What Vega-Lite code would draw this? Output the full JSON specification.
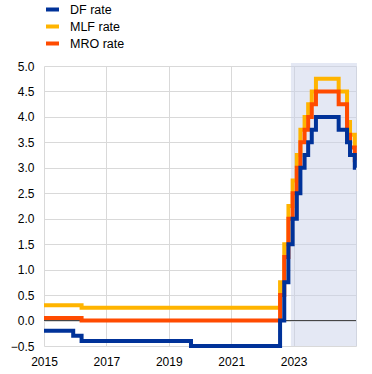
{
  "$schema": "https://vega.github.io/schema/vega-lite/v6.json",
  "width": 312,
  "height": 280,
  "autosize": {"type": "none"},
  "padding": {"left": 44, "top": 66, "right": 16, "bottom": 28},
  "background": "white",
  "config": {
    "view": {"stroke": null},
    "font": "Liberation Sans",
    "axisX": {"grid": true, "gridColor": "#d9d9d9", "ticks": false, "domain": false, "labelFontSize": 12, "labelColor": "#000000", "labelPadding": 10, "labelFlush": false, "labelOverlap": false, "title": null},
    "axisY": {"grid": true, "gridColor": "#d9d9d9", "ticks": false, "domain": false, "labelFontSize": 12, "labelColor": "#000000", "labelPadding": 10, "title": null}
  },
  "layer": [
    {
      "data": {"values": [{"start": "2022-12-01", "end": "2025-01-12", "lo": -0.5, "hi": 5.06}]},
      "mark": {"type": "rect", "color": "#c9d1e9", "opacity": 0.5},
      "encoding": {
        "x": {"field": "start", "type": "temporal", "scale": {"domain": ["2015-01-01", "2025-01-01"]}, "axis": {"values": [{"year": 2015}, {"year": 2017}, {"year": 2019}, {"year": 2021}, {"year": 2023}, {"year": 2025}], "format": "%Y", "labelExpr": "datum.label == '2025' ? '' : datum.label", "title": null}},
        "x2": {"field": "end"},
        "y": {"field": "lo", "type": "quantitative", "scale": {"domain": [-0.5, 5]}, "axis": {"values": [-0.5, 0, 0.5, 1, 1.5, 2, 2.5, 3, 3.5, 4, 4.5, 5], "format": ".1f", "title": null}},
        "y2": {"field": "hi"}
      }
    },
    {
      "data": {"values": [{"z": 0}]},
      "mark": {"type": "rule", "color": "#404040", "strokeWidth": 1},
      "encoding": {
        "y": {"field": "z", "type": "quantitative", "axis": {"values": [-0.5, 0, 0.5, 1, 1.5, 2, 2.5, 3, 3.5, 4, 4.5, 5], "format": ".1f", "title": null}}
      }
    },
    {
      "data": {"values": [
        {"date": "2015-01-01", "series": "MLF rate", "rate": 0.30},
        {"date": "2016-03-16", "series": "MLF rate", "rate": 0.25},
        {"date": "2022-07-27", "series": "MLF rate", "rate": 0.75},
        {"date": "2022-09-14", "series": "MLF rate", "rate": 1.50},
        {"date": "2022-11-02", "series": "MLF rate", "rate": 2.25},
        {"date": "2022-12-21", "series": "MLF rate", "rate": 2.75},
        {"date": "2023-02-08", "series": "MLF rate", "rate": 3.25},
        {"date": "2023-03-22", "series": "MLF rate", "rate": 3.75},
        {"date": "2023-05-10", "series": "MLF rate", "rate": 4.00},
        {"date": "2023-06-21", "series": "MLF rate", "rate": 4.25},
        {"date": "2023-08-02", "series": "MLF rate", "rate": 4.50},
        {"date": "2023-09-20", "series": "MLF rate", "rate": 4.75},
        {"date": "2024-06-12", "series": "MLF rate", "rate": 4.50},
        {"date": "2024-09-18", "series": "MLF rate", "rate": 3.90},
        {"date": "2024-10-23", "series": "MLF rate", "rate": 3.65},
        {"date": "2024-12-18", "series": "MLF rate", "rate": 3.40},
        {"date": "2025-01-01", "series": "MLF rate", "rate": 3.40},
        {"date": "2015-01-01", "series": "MRO rate", "rate": 0.05},
        {"date": "2016-03-16", "series": "MRO rate", "rate": 0.00},
        {"date": "2022-07-27", "series": "MRO rate", "rate": 0.50},
        {"date": "2022-09-14", "series": "MRO rate", "rate": 1.25},
        {"date": "2022-11-02", "series": "MRO rate", "rate": 2.00},
        {"date": "2022-12-21", "series": "MRO rate", "rate": 2.50},
        {"date": "2023-02-08", "series": "MRO rate", "rate": 3.00},
        {"date": "2023-03-22", "series": "MRO rate", "rate": 3.50},
        {"date": "2023-05-10", "series": "MRO rate", "rate": 3.75},
        {"date": "2023-06-21", "series": "MRO rate", "rate": 4.00},
        {"date": "2023-08-02", "series": "MRO rate", "rate": 4.25},
        {"date": "2023-09-20", "series": "MRO rate", "rate": 4.50},
        {"date": "2024-06-12", "series": "MRO rate", "rate": 4.25},
        {"date": "2024-09-18", "series": "MRO rate", "rate": 3.65},
        {"date": "2024-10-23", "series": "MRO rate", "rate": 3.40},
        {"date": "2024-12-18", "series": "MRO rate", "rate": 3.15},
        {"date": "2025-01-01", "series": "MRO rate", "rate": 3.15},
        {"date": "2015-01-01", "series": "DF rate", "rate": -0.20},
        {"date": "2015-12-09", "series": "DF rate", "rate": -0.30},
        {"date": "2016-03-16", "series": "DF rate", "rate": -0.40},
        {"date": "2019-09-18", "series": "DF rate", "rate": -0.50},
        {"date": "2022-07-27", "series": "DF rate", "rate": 0.00},
        {"date": "2022-09-14", "series": "DF rate", "rate": 0.75},
        {"date": "2022-11-02", "series": "DF rate", "rate": 1.50},
        {"date": "2022-12-21", "series": "DF rate", "rate": 2.00},
        {"date": "2023-02-08", "series": "DF rate", "rate": 2.50},
        {"date": "2023-03-22", "series": "DF rate", "rate": 3.00},
        {"date": "2023-05-10", "series": "DF rate", "rate": 3.25},
        {"date": "2023-06-21", "series": "DF rate", "rate": 3.50},
        {"date": "2023-08-02", "series": "DF rate", "rate": 3.75},
        {"date": "2023-09-20", "series": "DF rate", "rate": 4.00},
        {"date": "2024-06-12", "series": "DF rate", "rate": 3.75},
        {"date": "2024-09-18", "series": "DF rate", "rate": 3.50},
        {"date": "2024-10-23", "series": "DF rate", "rate": 3.25},
        {"date": "2024-12-18", "series": "DF rate", "rate": 3.00},
        {"date": "2025-01-01", "series": "DF rate", "rate": 3.00}
      ]},
      "mark": {"type": "line", "interpolate": "step-after", "strokeWidth": 4},
      "encoding": {
        "x": {"field": "date", "type": "temporal", "axis": {"values": [{"year": 2015}, {"year": 2017}, {"year": 2019}, {"year": 2021}, {"year": 2023}, {"year": 2025}], "format": "%Y", "labelExpr": "datum.label == '2025' ? '' : datum.label", "title": null}},
        "y": {"field": "rate", "type": "quantitative", "axis": {"values": [-0.5, 0, 0.5, 1, 1.5, 2, 2.5, 3, 3.5, 4, 4.5, 5], "format": ".1f", "title": null}},
        "color": {
          "field": "series", "type": "nominal",
          "scale": {"domain": ["DF rate", "MLF rate", "MRO rate"], "range": ["#003299", "#ffb400", "#ff4b00"]},
          "legend": {"orient": "none", "legendX": 0, "legendY": -65, "title": null, "symbolType": "stroke", "symbolSize": 169, "symbolStrokeWidth": 4, "labelFontSize": 12.5, "labelColor": "#000000", "rowPadding": -1.5, "labelOffset": 9, "padding": 0}
        }
      }
    }
  ]
}
